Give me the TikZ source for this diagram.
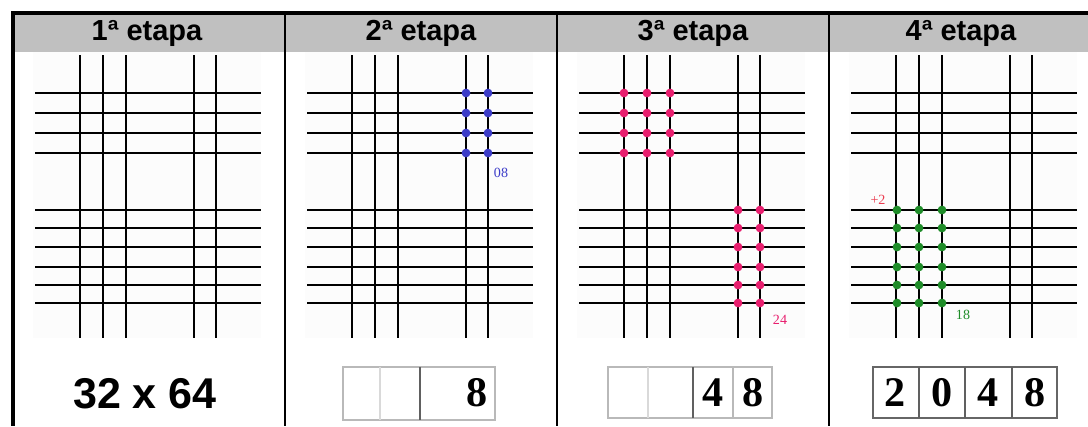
\documentclass[tikz,border=0pt]{standalone}
\usepackage{fontspec}
\setmainfont{Liberation Sans}
\newfontfamily\timesfont{Liberation Serif}
\usepackage{xcolor}
\usepackage{tikz}
\usetikzlibrary{positioning}
\definecolor{headgray}{RGB}{192,192,192}
\definecolor{dotblue}{RGB}{60,60,200}
\definecolor{dotpink}{RGB}{232,30,110}
\definecolor{dotgreen}{RGB}{30,140,40}
\definecolor{carryred}{RGB}{235,60,80}
\tikzset{
  frame/.style={line width=1.8pt, black},
  colsep/.style={line width=1.2pt, black},
  headtxt/.style={font=\fontsize{16.5}{19}\selectfont\bfseries, inner sep=0pt},
  wire/.style={line width=1.1pt, black},
  knot/.style={circle, fill=#1, inner sep=0pt, minimum size=5pt},
  note/.style={font=\timesfont\fontsize{8}{9}\selectfont, inner sep=0pt},
  digit/.style={font=\timesfont\fontsize{24}{27}\selectfont\bfseries, inner sep=0pt},
  prodtxt/.style={font=\fontsize{24.5}{28}\selectfont\bfseries, inner sep=0pt},
  cellbox/.style={draw=gray!55, line width=0.7pt},
  softdiv/.style={gray!30, line width=0.6pt},
  harddiv/.style={gray!75!black, line width=0.8pt}
}

\begin{document}
\begin{tikzpicture}[x=0.02cm, y=-0.02cm]
  \useasboundingbox (0,0) rectangle (1088,426);
  \fill[headgray] (13,13) rectangle (1088,52);
  % the four grids
  \foreach \c in {33,305,577,849} {
    \fill[gray!2] (\c,52) rectangle (\c+228,338);
    \foreach \h in {93,113,133,153,210,228,247,267,285,303}
      \draw[wire] (\c+2,\h) -- (\c+228,\h);
    \foreach \v in {47,70,93,161,183}
      \draw[wire] (\c+\v,55) -- (\c+\v,338);
  }
  \draw[frame] (1088,13) -- (13,13) -- (13,426);
  \foreach \x in {285,557,829}
    \draw[colsep] (\x,13) -- (\x,426);
  \foreach \x/\n in {147/1,421/2,693/3,961/4}
    \node[headtxt] (head\n) at (\x,33) {{\n}ª etapa};

  % 2a etapa
  \foreach \x in {466,488}
    \foreach \y in {93,113,133,153}
      \node[knot=dotblue] (b-\x-\y) at (\x,\y) {};
  \node[note, text=dotblue] (n08) at (501,173) {08};

  % 3a etapa
  \foreach \x in {624,647,670}
    \foreach \y in {93,113,133,153}
      \node[knot=dotpink] (p-\x-\y) at (\x,\y) {};
  \foreach \x in {738,760}
    \foreach \y in {210,228,247,267,285,303}
      \node[knot=dotpink] (q-\x-\y) at (\x,\y) {};
  \node[note, text=dotpink] (n24) at (780,320) {24};

  % 4a etapa
  \foreach \x in {897,919,942}
    \foreach \y in {210,228,247,267,285,303}
      \node[knot=dotgreen] (g-\x-\y) at (\x,\y) {};
  \node[note, text=dotgreen] (n18) at (963,315) {18};
  \node[note, text=carryred] (n2) at (878,200) {+2};

  % results
  \node[prodtxt] (prod) at (145,394) {32 x 64};

  \draw[cellbox] (343,367) rectangle (495,420);
  \draw[softdiv] (380,367) -- (380,420);
  \draw[harddiv] (420,367) -- (420,420);
  \node[digit] (r2-8) at (477,393) {8};

  \draw[cellbox] (608,367) rectangle (772,418);
  \draw[softdiv] (648,367) -- (648,418);
  \draw[harddiv] (693,367) -- (693,418);
  \draw[softdiv, gray!55] (733,367) -- (733,418);
  \node[digit] (r3-4) at (713,393) {4};
  \node[digit] (r3-8) at (753,393) {8};

  \draw[cellbox, draw=gray!80!black] (873,367) rectangle (1057,418);
  \foreach \x in {919,965,1012}
    \draw[harddiv] (\x,367) -- (\x,418);
  \foreach \x/\d in {895/2,942/0,988/4,1035/8}
    \node[digit] (r4-\d) at (\x,393) {\d};
\end{tikzpicture}
\end{document}
